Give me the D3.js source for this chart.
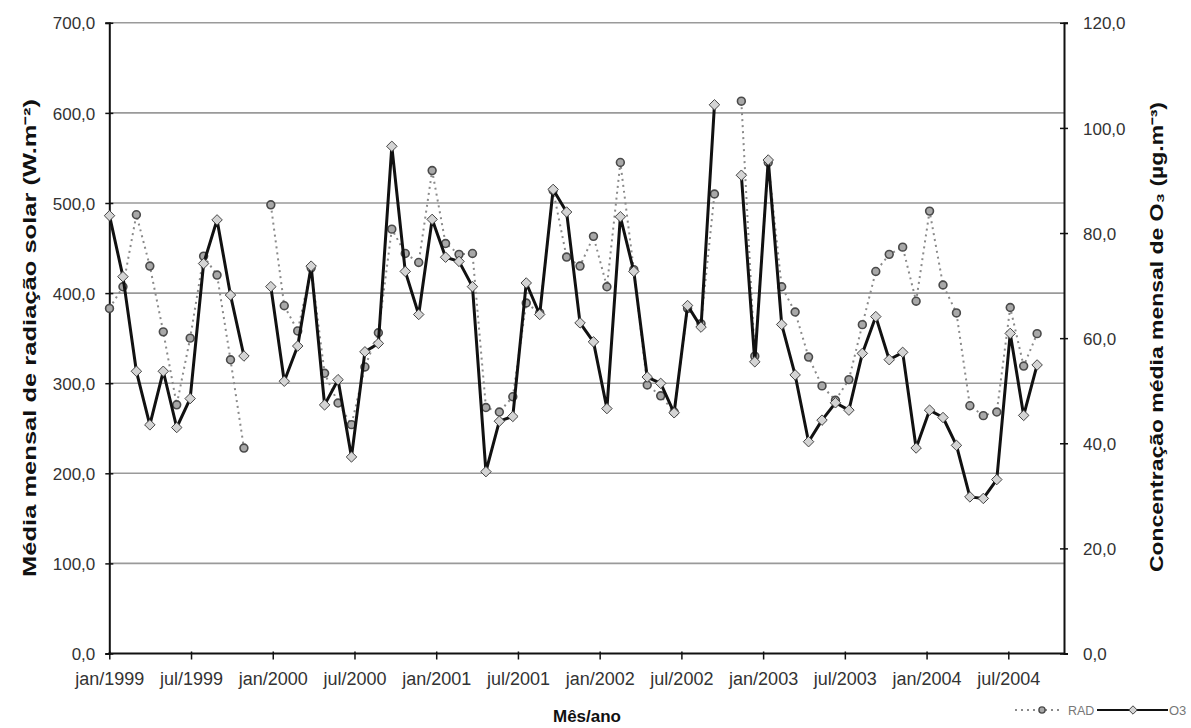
<!DOCTYPE html>
<html>
<head>
<meta charset="utf-8">
<script src="https://cdn.jsdelivr.net/npm/d3@7"></script>
<style>
  html, body { margin: 0; padding: 0; background: #fff; }
  svg { display: block; }
  text { font-family: "Liberation Sans", Arial, sans-serif; }
</style>
</head>
<body>
<svg id="chart" width="1191" height="728"></svg>
<script>
// ---- categories (monthly, jan/1999 .. out/2004) ----
const months = [
  "jan/1999","fev/1999","mar/1999","abr/1999","mai/1999","jun/1999","jul/1999","ago/1999","set/1999","out/1999","nov/1999","dez/1999",
  "jan/2000","fev/2000","mar/2000","abr/2000","mai/2000","jun/2000","jul/2000","ago/2000","set/2000","out/2000","nov/2000","dez/2000",
  "jan/2001","fev/2001","mar/2001","abr/2001","mai/2001","jun/2001","jul/2001","ago/2001","set/2001","out/2001","nov/2001","dez/2001",
  "jan/2002","fev/2002","mar/2002","abr/2002","mai/2002","jun/2002","jul/2002","ago/2002","set/2002","out/2002","nov/2002","dez/2002",
  "jan/2003","fev/2003","mar/2003","abr/2003","mai/2003","jun/2003","jul/2003","ago/2003","set/2003","out/2003","nov/2003","dez/2003",
  "jan/2004","fev/2004","mar/2004","abr/2004","mai/2004","jun/2004","jul/2004","ago/2004","set/2004","out/2004"
];

// ---- RAD: monthly mean solar radiation (W.m-2), left axis ----
const rad = [
  383, 407, 487, 430, 357, 276, 350, 441, 420, 326, 228, null,
  498, 386, 358, 428, 311, 278, 254, 318, 356, 471, 444, 434,
  536, 455, 443, 444, 273, 268, 285, 389, 378, 514, 440, 430,
  463, 407, 545, 426, 298, 286, 268, 383, 366, 510, null, 613,
  330, 545, 407, 379, 329, 297, 281, 304, 365, 424, 443, 451,
  391, 491, 409, 378, 275, 264, 268, 384, 319, 355
];

// ---- O3: monthly mean ozone concentration (ug.m-3), right axis ----
const o3 = [
  83.3, 71.7, 53.7, 43.5, 53.7, 43.0, 48.5, 74.2, 82.5, 68.2, 56.6, null,
  69.8, 51.8, 58.5, 73.7, 47.3, 52.1, 37.4, 57.4, 59.0, 96.5, 72.7, 64.5,
  82.6, 75.4, 74.6, 69.8, 34.6, 44.2, 45.1, 70.5, 64.5, 88.3, 84.0, 62.9,
  59.3, 46.6, 83.1, 72.7, 52.6, 51.4, 45.8, 66.2, 62.1, 104.4, null, 91.0,
  55.5, 93.9, 62.6, 53.0, 40.3, 44.4, 47.7, 46.3, 57.1, 64.1, 55.9, 57.3,
  39.1, 46.3, 44.9, 39.6, 29.8, 29.5, 33.1, 60.9, 45.3, 54.9
];

// ---- tick labels ----
const xTickLabels = ["jan/1999","jul/1999","jan/2000","jul/2000","jan/2001","jul/2001",
                     "jan/2002","jul/2002","jan/2003","jul/2003","jan/2004","jul/2004"];
const leftTicks = [0, 100, 200, 300, 400, 500, 600, 700];
const rightTicks = [0, 20, 40, 60, 80, 100, 120];

const seriesNames = ["RAD", "O3"];
const titles = {
  x: "Mês/ano",
  left: "Média mensal de radiação solar (W.m⁻²)",
  right: "Concentração média mensal de O₃ (µg.m⁻³)"
};

// ---- layout ----
const svg = d3.select("#chart");
const L = 109.3, R = 1064, T = 22.8, B = 653.5;

const x = d3.scaleLinear().domain([0, 71]).range([L + 0.2, R]);
const xTicks = d3.scalePoint().domain(xTickLabels).range([L, 1008.3]);
const yL = d3.scaleLinear().domain([0, 700]).range([B, T]);
const yR = d3.scaleLinear().domain([0, 120]).range([B, T]);
const fmt = d => d.toFixed(1).replace(".", ",");

svg.append("rect").attr("width", 1191).attr("height", 728).attr("fill", "#fff");

// gridlines
svg.append("g").selectAll("line").data(leftTicks.filter(d => d > 0)).join("line")
  .attr("x1", L).attr("x2", R)
  .attr("y1", d => yL(d)).attr("y2", d => yL(d))
  .attr("stroke", "#9a9a9a").attr("stroke-width", 1.6);

// left axis
const gL = svg.append("g").attr("transform", `translate(${L},0)`)
  .call(d3.axisLeft(yL).tickValues(leftTicks).tickFormat(fmt).tickSizeOuter(0).tickSize(4));
gL.select(".domain").attr("stroke", "#111").attr("stroke-width", 2);
gL.selectAll(".tick line").attr("x1", 4).attr("x2", -4).attr("stroke", "#111").attr("stroke-width", 1.5);
gL.selectAll(".tick text").attr("x", -14).attr("dy", "0.36em")
  .attr("font-size", 17).attr("fill", "#333").style("font-family", "Liberation Sans, Arial, sans-serif");

// right axis
const gR = svg.append("g").attr("transform", `translate(${R},0)`)
  .call(d3.axisRight(yR).tickValues(rightTicks).tickFormat(fmt).tickSizeOuter(0).tickSize(4));
gR.select(".domain").attr("stroke", "#111").attr("stroke-width", 2);
gR.selectAll(".tick line").attr("x1", -4).attr("x2", 4).attr("stroke", "#111").attr("stroke-width", 1.5);
gR.selectAll(".tick text").attr("x", 19).attr("dy", "0.36em")
  .attr("font-size", 17).attr("fill", "#333").style("font-family", "Liberation Sans, Arial, sans-serif");

// bottom axis
const gB = svg.append("g").attr("transform", `translate(0,${B})`)
  .call(d3.axisBottom(xTicks).tickSizeOuter(0).tickSize(6));
gB.select(".domain").remove();
gB.append("line").attr("x1", L - 1).attr("x2", R + 1).attr("y1", 0).attr("y2", 0)
  .attr("stroke", "#111").attr("stroke-width", 2);
gB.selectAll(".tick line").attr("y1", -2).attr("y2", 6).attr("stroke", "#111").attr("stroke-width", 1.5);
gB.selectAll(".tick text").attr("y", 19).attr("dy", "0.71em")
  .attr("font-size", 18).attr("fill", "#333").style("font-family", "Liberation Sans, Arial, sans-serif");

// ---- series ----
const radData = rad.map((v, i) => ({ i, v }));
const o3Data = o3.map((v, i) => ({ i, v }));

const radLine = d3.line().defined(d => d.v != null).x(d => x(d.i)).y(d => yL(d.v));
const o3Line = d3.line().defined(d => d.v != null).x(d => x(d.i)).y(d => yR(d.v));

svg.append("path").datum(radData).attr("d", radLine)
  .attr("fill", "none").attr("stroke", "#8a8a8a").attr("stroke-width", 2)
  .attr("stroke-dasharray", "2,4");

const diamond = d3.symbol().type(d3.symbolDiamond2).size(70);
const circle = d3.symbol().type(d3.symbolCircle).size(48);

svg.append("g").selectAll("path").data(radData.filter(d => d.v != null)).join("path")
  .attr("d", circle)
  .attr("transform", d => `translate(${x(d.i)},${yL(d.v)})`)
  .attr("fill", "#a8a8a8").attr("stroke", "#4a4a4a").attr("stroke-width", 1.6);

svg.append("path").datum(o3Data).attr("d", o3Line)
  .attr("fill", "none").attr("stroke", "#111").attr("stroke-width", 3)
  .attr("stroke-linejoin", "round");

svg.append("g").selectAll("path").data(o3Data.filter(d => d.v != null)).join("path")
  .attr("d", diamond)
  .attr("transform", d => `translate(${x(d.i)},${yR(d.v)})`)
  .attr("fill", "#d4d4d4").attr("stroke", "#444").attr("stroke-width", 1);

// ---- titles ----
svg.append("text").attr("x", 587).attr("y", 722).attr("text-anchor", "middle")
  .attr("font-size", 17).attr("font-weight", "bold").attr("fill", "#111").text(titles.x);

svg.append("text").attr("transform", "translate(36,338) rotate(-90)")
  .attr("text-anchor", "middle").attr("font-size", 18).attr("font-weight", "bold").attr("fill", "#111")
  .attr("textLength", 478).attr("lengthAdjust", "spacingAndGlyphs")
  .text(titles.left);

svg.append("text").attr("transform", "translate(1163,337) rotate(-90)")
  .attr("text-anchor", "middle").attr("font-size", 18).attr("font-weight", "bold").attr("fill", "#111")
  .attr("textLength", 470).attr("lengthAdjust", "spacingAndGlyphs")
  .text(titles.right);

// ---- legend ----
const lg = svg.append("g");
const ly = 710;
lg.append("line").attr("x1", 1015).attr("x2", 1062).attr("y1", ly).attr("y2", ly)
  .attr("stroke", "#8a8a8a").attr("stroke-width", 2).attr("stroke-dasharray", "2,4");
lg.append("path").attr("d", d3.symbol().type(d3.symbolCircle).size(30)())
  .attr("transform", `translate(1042,${ly})`)
  .attr("fill", "#a8a8a8").attr("stroke", "#4a4a4a").attr("stroke-width", 1.4);
lg.append("text").attr("x", 1068).attr("y", ly + 4.5).attr("font-size", 12.5).attr("fill", "#777").text(seriesNames[0]);
lg.append("line").attr("x1", 1097).attr("x2", 1168).attr("y1", ly).attr("y2", ly)
  .attr("stroke", "#111").attr("stroke-width", 2);
lg.append("path").attr("d", d3.symbol().type(d3.symbolDiamond2).size(45)())
  .attr("transform", `translate(1133,${ly})`)
  .attr("fill", "#d4d4d4").attr("stroke", "#444").attr("stroke-width", 1);
lg.append("text").attr("x", 1169).attr("y", ly + 4.5).attr("font-size", 13).attr("fill", "#777").text("O3");
</script>
</body>
</html>
